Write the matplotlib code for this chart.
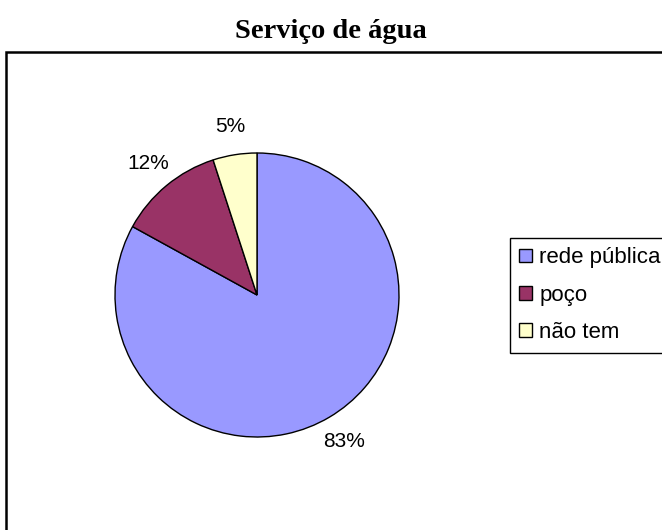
import matplotlib
matplotlib.use("Agg")
import matplotlib.pyplot as plt
from matplotlib.patches import Rectangle

categories = ["rede pública", "poço", "não tem"]
values = [83, 12, 5]
colors = ["#9999FF", "#993366", "#FFFFCC"]
title = "Serviço de água"

W, H = 662, 530
fig = plt.figure(figsize=(W / 100, H / 100), dpi=100)
ax = fig.add_axes([0, 0, 1, 1])

wedges, texts, autotexts = ax.pie(
    values, colors=colors, startangle=90, counterclock=False,
    center=(257, H - 295), radius=142,
    autopct="%1.0f%%", pctdistance=1.2,
    wedgeprops=dict(edgecolor="black", linewidth=1),
    textprops=dict(fontsize=15, family="Liberation Sans", color="black"),
)
ax.set_xlim(0, W)
ax.set_ylim(0, H)
ax.set_aspect("equal")
ax.axis("off")

# outer chart-area border (clipped by figure edges on right and bottom)
ax.add_patch(Rectangle((6, -20), 720, H - 52 + 20, fill=False,
                       edgecolor="black", linewidth=1.8, clip_on=False))

fig.text(331 / W, 1 - 31 / H, title, ha="center", va="center",
         fontsize=20.5, fontweight="bold", family="Liberation Serif")

leg = ax.legend(wedges, categories, loc="upper left",
                bbox_to_anchor=(510 / W, 1 - 238 / H), bbox_transform=fig.transFigure,
                frameon=True, fancybox=False, shadow=False, framealpha=1,
                edgecolor="black", borderaxespad=0, borderpad=0.42,
                handlelength=0.58, handleheight=0.58, handletextpad=0.32,
                labelspacing=0.74, prop=dict(family="Liberation Sans", size=16))
leg.get_frame().set_linewidth(1)

fig.savefig("out.png", dpi=100)
